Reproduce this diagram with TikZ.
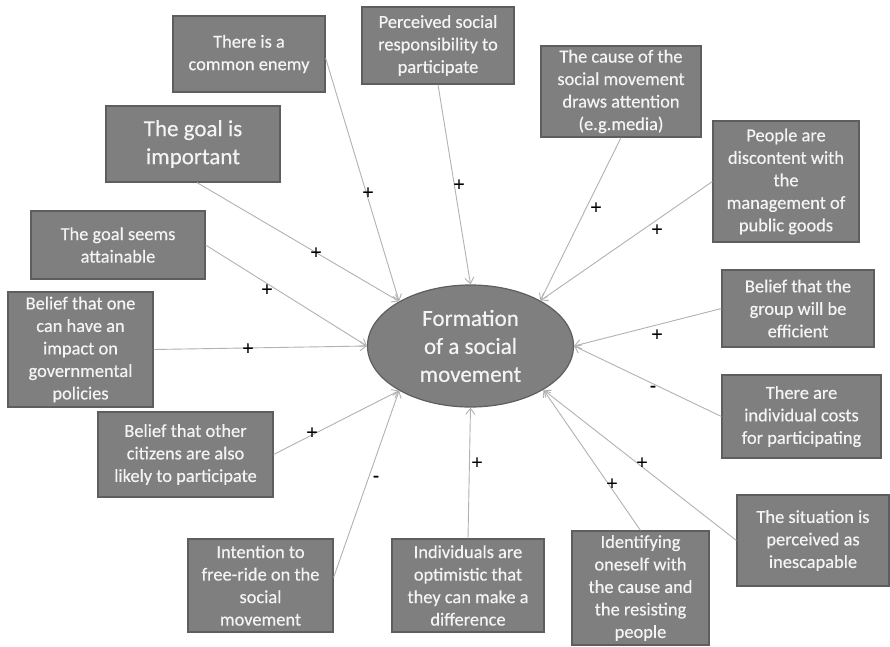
\documentclass[tikz,border=0pt]{standalone}
\usepackage{fontspec}
\setmainfont{Carlito}
\newfontfamily\boxfont[FakeBold=0.4]{Carlito}
\usetikzlibrary{arrows.meta,shapes.geometric}
\definecolor{boxfill}{HTML}{7F7F7F}
\definecolor{boxline}{HTML}{5E5E5E}
\definecolor{txt}{HTML}{F4F4F4}
\definecolor{conn}{HTML}{B2B2B2}
\tikzset{
  box/.style={draw=boxline, fill=boxfill, line width=1.2pt, text=txt, align=center, inner sep=1pt,
    font=\boxfont\fontsize{18.4}{22.5}\selectfont},
  bigbox/.style={box, font=\boxfont\fontsize{23}{28}\selectfont},
  hub/.style={ellipse, draw=boxline, fill=boxfill, line width=1.2pt, text=txt, align=center, inner sep=0pt,
    minimum width=206pt, minimum height=122pt, font=\boxfont\fontsize{23}{28}\selectfont},
  conn/.style={draw=conn, line width=0.9pt, -{Straight Barb[length=6pt,width=9pt,line width=0.9pt]}},
  sign/.style={text=black, inner sep=0pt, font=\boxfont\fontsize{20}{20}\selectfont}
}
\begin{document}
\begin{tikzpicture}[x=1pt,y=-1pt]
\useasboundingbox[fill=white] (0,0) rectangle (890,646);

\node[hub] (hub) at (470.5,346) {Formation\\of a social\\movement};

\node[box, minimum width=152pt, minimum height=76pt] (enemy) at (249,54) {There is a\\common enemy};
\node[box, minimum width=152pt, minimum height=77pt] (resp) at (438,45.5) {Perceived social\\responsibility to\\participate};
\node[bigbox, minimum width=174pt, minimum height=76pt] (important) at (193,144) {The goal is\\important};
\node[box, minimum width=174pt, minimum height=68pt] (attain) at (118,245) {The goal seems\\attainable};
\node[box, minimum width=145pt, minimum height=115pt] (impact) at (80.5,349.5) {Belief that one\\can have an\\impact on\\governmental\\policies};
\node[box, minimum width=175pt, minimum height=85pt] (citizens) at (185.5,454.5) {Belief that other\\citizens are also\\likely to participate};
\node[box, minimum width=145pt, minimum height=93pt] (free) at (260.5,585.5) {Intention to\\free-ride on the\\social\\movement};
\node[box, minimum width=152pt, minimum height=93pt] (optim) at (468,585.5) {Individuals are\\optimistic that\\they can make a\\difference};
\node[box, minimum width=137pt, minimum height=114pt] (ident) at (640.5,588) {Identifying\\oneself with\\the cause and\\the resisting\\people};
\node[box, minimum width=152pt, minimum height=91pt] (situ) at (813,540.5) {The situation is\\perceived as\\inescapable};
\node[box, minimum width=159pt, minimum height=83pt] (costs) at (801.5,416.5) {There are\\individual costs\\for participating};
\node[box, minimum width=152pt, minimum height=77pt] (group) at (798,308.5) {Belief that the\\group will be\\efficient};
\node[box, minimum width=146pt, minimum height=121pt] (disc) at (786,181.5) {People are\\discontent with\\the\\management of\\public goods};
\node[box, minimum width=160pt, minimum height=91pt] (cause) at (621,91.5) {The cause of the\\social movement\\draws attention\\(e.g.media)};

\draw[conn] ([yshift=-4pt]enemy.east) -- (hub.148);
\draw[conn] (resp.south) -- (hub.90);
\draw[conn] ([xshift=4pt]important.south) -- (hub.148);
\draw[conn] (attain.east) -- (hub.180);
\draw[conn] (impact.east) -- (hub.180);
\draw[conn] (citizens.east) -- (hub.212);
\draw[conn] ([yshift=8pt]free.east) -- (hub.212);
\draw[conn] (optim.north) -- (hub.270);
\draw[conn] (ident.north) -- (hub.-31);
\draw[conn] (situ.west) -- (hub.-31);
\draw[conn] (costs.west) -- (hub.0);
\draw[conn] (group.west) -- (hub.0);
\draw[conn] (disc.west) -- (hub.33);
\draw[conn] (cause.south) -- (hub.33);

\node[sign] (s1) at (368,193) {+};
\node[sign] (s2) at (459,185) {+};
\node[sign] (s3) at (316,253) {+};
\node[sign] (s4) at (267,290) {+};
\node[sign] (s5) at (248,349) {+};
\node[sign] (s6) at (312,433) {+};
\node[sign] (s7) at (376,479) {-};
\node[sign] (s8) at (477,463) {+};
\node[sign] (s9) at (612,484) {+};
\node[sign] (s10) at (642,463) {+};
\node[sign] (s11) at (653,389) {-};
\node[sign] (s12) at (657,335) {+};
\node[sign] (s13) at (657,230) {+};
\node[sign] (s14) at (596,208) {+};
\end{tikzpicture}
\end{document}
